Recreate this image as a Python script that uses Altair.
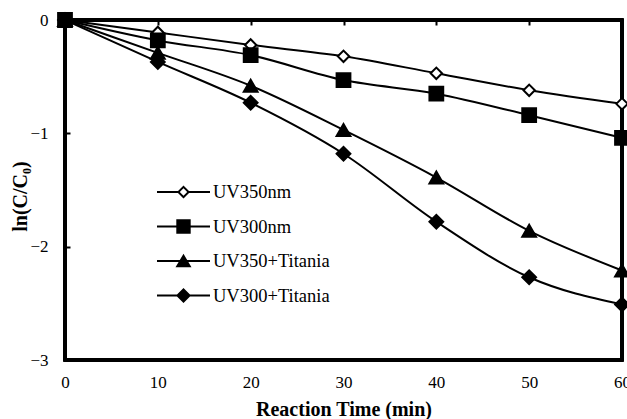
import altair as alt
import pandas as pd

time_min = [0, 10, 20, 30, 40, 50, 60]
series_names = ["UV350nm", "UV300nm", "UV350+Titania", "UV300+Titania"]
uv350 = [0, -0.11, -0.22, -0.32, -0.47, -0.62, -0.74]
uv300 = [0, -0.18, -0.31, -0.53, -0.65, -0.84, -1.04]
uv350_ti = [0, -0.29, -0.58, -0.97, -1.39, -1.86, -2.21]
uv300_ti = [0, -0.37, -0.73, -1.18, -1.78, -2.27, -2.51]
x_ticks = [0, 10, 20, 30, 40, 50, 60]
y_ticks = [-3, -2, -1, 0]

rows = []
for name, vals in zip(series_names, [uv350, uv300, uv350_ti, uv300_ti]):
    for t, v in zip(time_min, vals):
        rows.append({"series": name, "time": t, "lnc": v})
df = pd.DataFrame(rows)

FONT = "Liberation Serif"
xscale = alt.Scale(domain=[0, 60], nice=False, zero=False)
yscale = alt.Scale(domain=[-3, 0], nice=False, zero=False)

bottom_axis = alt.Axis(orient="bottom", values=x_ticks, ticks=False, tickSize=0, domain=False,
                       grid=False, labelPadding=14, labelFont=FONT, labelFontSize=17,
                       labelColor="black", labelFlush=False, title="Reaction Time (min)",
                       titleFont=FONT, titleFontSize=20, titleFontWeight="bold",
                       titleColor="black", titleY=39)
left_axis = alt.Axis(orient="left", values=y_ticks, ticks=True, tickSize=5, offset=-5,
                     tickColor="black", tickWidth=2, domain=False, grid=False,
                     labelPadding=17, labelFont=FONT, labelFontSize=17, labelColor="black",
                     labelFlush=False, title="ln(C/C₀)", titleFont=FONT, titleFontSize=20,
                     titleFontWeight="bold", titleColor="black", titleX=-40, titleY=176)
top_axis = alt.Axis(orient="top", values=x_ticks, labels=False, ticks=True, tickSize=5,
                    offset=-5, tickColor="black", tickWidth=2, domain=False, grid=False,
                    title=None)

frame = alt.Chart(df).mark_rect(filled=False, stroke="black", strokeWidth=2.5).encode(
    x=alt.value(0), x2=alt.value("width"), y=alt.value(0), y2=alt.value("height")
)

lines = alt.Chart(df).mark_line(interpolate="monotone", color="black", strokeWidth=2).encode(
    x=alt.X("time:Q", scale=xscale, axis=bottom_axis),
    y=alt.Y("lnc:Q", scale=yscale, axis=left_axis),
    detail="series:N",
)

points = alt.Chart(df).mark_point(filled=True, stroke="black", strokeWidth=2, opacity=1).encode(
    x=alt.X("time:Q", scale=xscale, axis=None),
    y=alt.Y("lnc:Q", scale=yscale, axis=None),
    shape=alt.Shape("series:N", scale=alt.Scale(domain=series_names,
                    range=["diamond", "square", "triangle-up", "diamond"]), legend=None),
    fill=alt.Fill("series:N", scale=alt.Scale(domain=series_names,
                  range=["white", "black", "black", "black"]), legend=None),
    size=alt.condition(alt.datum.series == "UV350nm", alt.value(130), alt.value(190)),
)

bar = "M-2.65,-0.1H2.65V0.1H-2.65Z"
open_diamond = ("M-2.65,-0.1H-0.45V0.1H-2.65Z M0.45,-0.1H2.65V0.1H0.45Z "
                "M0,-0.65L0.65,0L0,0.65L-0.65,0Z M0,-0.37L-0.37,0L0,0.37L0.37,0Z")
square = bar + " M-0.72,-0.72H0.72V0.72H-0.72Z"
triangle = bar + " M0,-0.72L0.8,0.62L-0.8,0.62Z"
diamond = bar + " M0,-0.75L0.75,0L0,0.75L-0.75,0Z"

legend_layer = alt.Chart(df).transform_filter("false").mark_point(filled=True, color="black").encode(
    x=alt.X("time:Q", scale=xscale, axis=top_axis),
    shape=alt.Shape("series:N", scale=alt.Scale(domain=series_names,
                    range=[open_diamond, square, triangle, diamond]),
                    legend=alt.Legend(orient="none", legendX=108.5, legendY=162, title=None,
                                      direction="vertical", symbolSize=400,
                                      symbolFillColor="black", symbolStrokeColor="black",
                                      symbolStrokeWidth=0, symbolOpacity=1,
                                      labelFont=FONT, labelFontSize=18.5, labelColor="black",
                                      labelOffset=19.5, rowPadding=14.5, padding=0)),
)

chart = alt.layer(frame, lines, points, legend_layer).resolve_scale(
    shape="independent"
).resolve_axis(x="independent", y="independent").properties(
    width=557, height=340,
    padding={"left": 65, "top": 20, "right": 5, "bottom": 59},
    autosize=alt.AutoSizeParams(type="none"),
    background="white",
).configure_view(stroke=None)

chart.save("out.html", embed_options={"renderer": "svg", "actions": False})
